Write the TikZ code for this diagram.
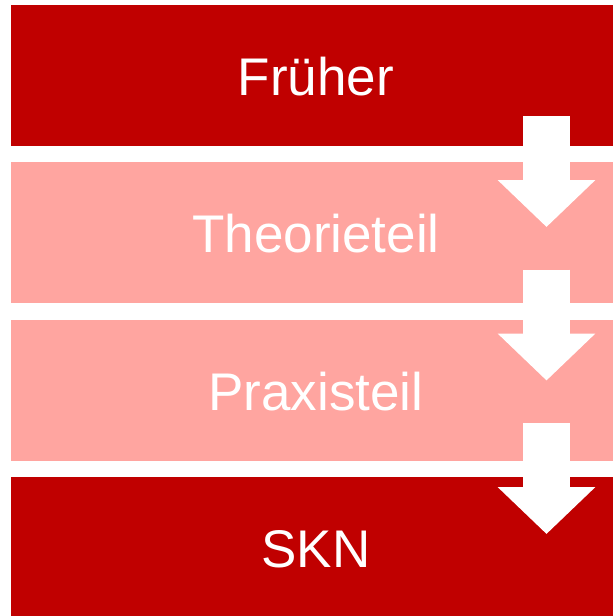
\documentclass[tikz,border=0pt]{standalone}
\usepackage{fontspec}
\setmainfont{Liberation Sans}
\usetikzlibrary{arrows.meta,positioning}
\definecolor{skndark}{RGB}{192,0,0}
\definecolor{sknlight}{RGB}{255,165,160}

\begin{document}
\begin{tikzpicture}[x=1pt, y=-1pt,
  stage/.style={rectangle, minimum width=610pt, minimum height=141pt, inner sep=0pt,
    text=white, text height=40pt, text depth=0pt, font=\fontsize{53}{60}\selectfont},
  flow/.style={draw=white, line width=47pt, -{Triangle[length=47pt, width=95pt]}}]

\useasboundingbox (0,0) rectangle (613,616);

\node[stage, fill=skndark] (frueher) at (316,75.5) {Früher};
\node[stage, fill=sknlight, below=16pt of frueher] (theorie) {Theorieteil};
\node[stage, fill=sknlight, below=16pt of theorie] (praxis) {Praxisteil};
\node[stage, fill=skndark, below=16pt of praxis] (skn) {SKN};

%arrows between the stages
\foreach \k in {0,1,2} {
  \coordinate (from\k) at (546.5,116+153.5*\k);
  \coordinate (to\k) at (546.5,227+153.5*\k);
  \draw[flow] (from\k) -- (to\k);
}
\end{tikzpicture}
\end{document}
